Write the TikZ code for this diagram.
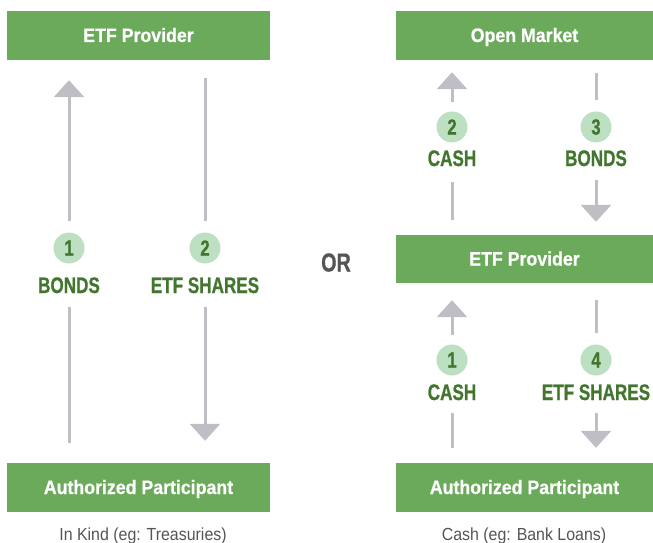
\documentclass[tikz,border=0pt]{standalone}
\usepackage{fontspec}
\setmainfont{Liberation Sans}[FakeStretch=0.91,BoldFeatures={FakeBold=0.6}]
\newfontfamily\narrowfont{Liberation Sans}[FakeStretch=0.76,BoldFeatures={FakeBold=0.8}]
\usetikzlibrary{arrows.meta}

\definecolor{boxgreen}{RGB}{106,170,90}
\definecolor{darkgreen}{RGB}{66,118,46}
\definecolor{lightgreen}{RGB}{190,224,194}
\definecolor{flowgray}{RGB}{190,190,196}
\definecolor{textgray}{RGB}{85,85,88}

\begin{document}
\begin{tikzpicture}[x=1pt,y=-1pt,
  party/.style={fill=boxgreen,text=white,minimum width=263pt,minimum height=49pt,inner sep=0pt,text height=13pt,text depth=0pt,font=\fontsize{19.5}{22}\selectfont\bfseries},
  stepno/.style={circle,fill=lightgreen,text=darkgreen,minimum size=31pt,inner sep=0pt,font=\fontsize{22}{24}\selectfont\narrowfont\bfseries},
  asset/.style={text=darkgreen,inner sep=0pt,text height=16pt,text depth=0pt,font=\fontsize{22.5}{24}\selectfont\narrowfont\bfseries},
  caption/.style={text=textgray,anchor=base,font=\fontsize{17.5}{20}\selectfont},
  flow/.style={flowgray,line width=3pt},
  flowto/.style={flow,-{Triangle[width=30pt,length=17pt]}}]
 \useasboundingbox (0,0) rectangle (653,543);

 % in kind
 \node[party] (provL) at (138.5,35.5) {ETF Provider};
 \node[party] (apL) at (138.5,487.5) {Authorized Participant};
 \node[caption] (capL) at (143,540) {In Kind (eg: Treasuries)};
 \node[stepno] (bondsNo) at (69,248) {1};
 \node[asset] (bonds) at (69,285) {BONDS};
 \node[stepno] (sharesNo) at (205,248) {2};
 \node[asset] (shares) at (205,285) {ETF SHARES};
 \draw[flowto,shorten <=11.5pt,shorten >=20pt] (bondsNo) -- (provL.south -| bondsNo);
 \draw[flow,shorten <=20pt,shorten >=14pt] (apL.north -| bonds) -- (bonds);
 \draw[flow,shorten <=18pt,shorten >=11.5pt] (provL.south -| sharesNo) -- (sharesNo);
 \draw[flowto,shorten <=14pt,shorten >=22pt] (shares) -- (apL.north -| shares);

 \node[text=textgray,inner sep=0pt,text height=19pt,text depth=0pt,font=\fontsize{26}{28}\selectfont\narrowfont\bfseries] (or) at (336,262) {OR};

 % cash
 \node[party,minimum width=257pt] (market) at (524.5,35.5) {Open Market};
 \node[party,minimum width=257pt,minimum height=48pt] (provR) at (524.5,259) {ETF Provider};
 \node[party,minimum width=257pt] (apR) at (524.5,487.5) {Authorized Participant};
 \node[caption] (capR) at (524,540) {Cash (eg: Bank Loans)};

 \node[stepno] (sellNo) at (452,127) {2};
 \node[asset] (sell) at (452,158) {CASH};
 \node[stepno] (buyNo) at (596,127) {3};
 \node[asset] (buy) at (596,158) {BONDS};
 \draw[flowto,shorten <=9.5pt,shorten >=12pt] (sellNo) -- (market.south -| sellNo);
 \draw[flow,shorten <=15pt,shorten >=16pt] (provR.north -| sell) -- (sell);
 \draw[flow,shorten <=13pt,shorten >=11.5pt] (market.south -| buyNo) -- (buyNo);
 \draw[flowto,shorten <=14pt,shorten >=13pt] (buy) -- (provR.north -| buy);

 \node[stepno] (cashNo) at (452,360) {1};
 \node[asset] (cash) at (452,392) {CASH};
 \node[stepno] (issueNo) at (596,360) {4};
 \node[asset] (issue) at (596,392) {ETF SHARES};
 \draw[flowto,shorten <=9.5pt,shorten >=17pt] (cashNo) -- (provR.south -| cashNo);
 \draw[flow,shorten <=15pt,shorten >=13pt] (apR.north -| cash) -- (cash);
 \draw[flow,shorten <=17pt,shorten >=11.5pt] (provR.south -| issueNo) -- (issueNo);
 \draw[flowto,shorten <=13pt,shorten >=15pt] (issue) -- (apR.north -| issue);
\end{tikzpicture}
\end{document}
